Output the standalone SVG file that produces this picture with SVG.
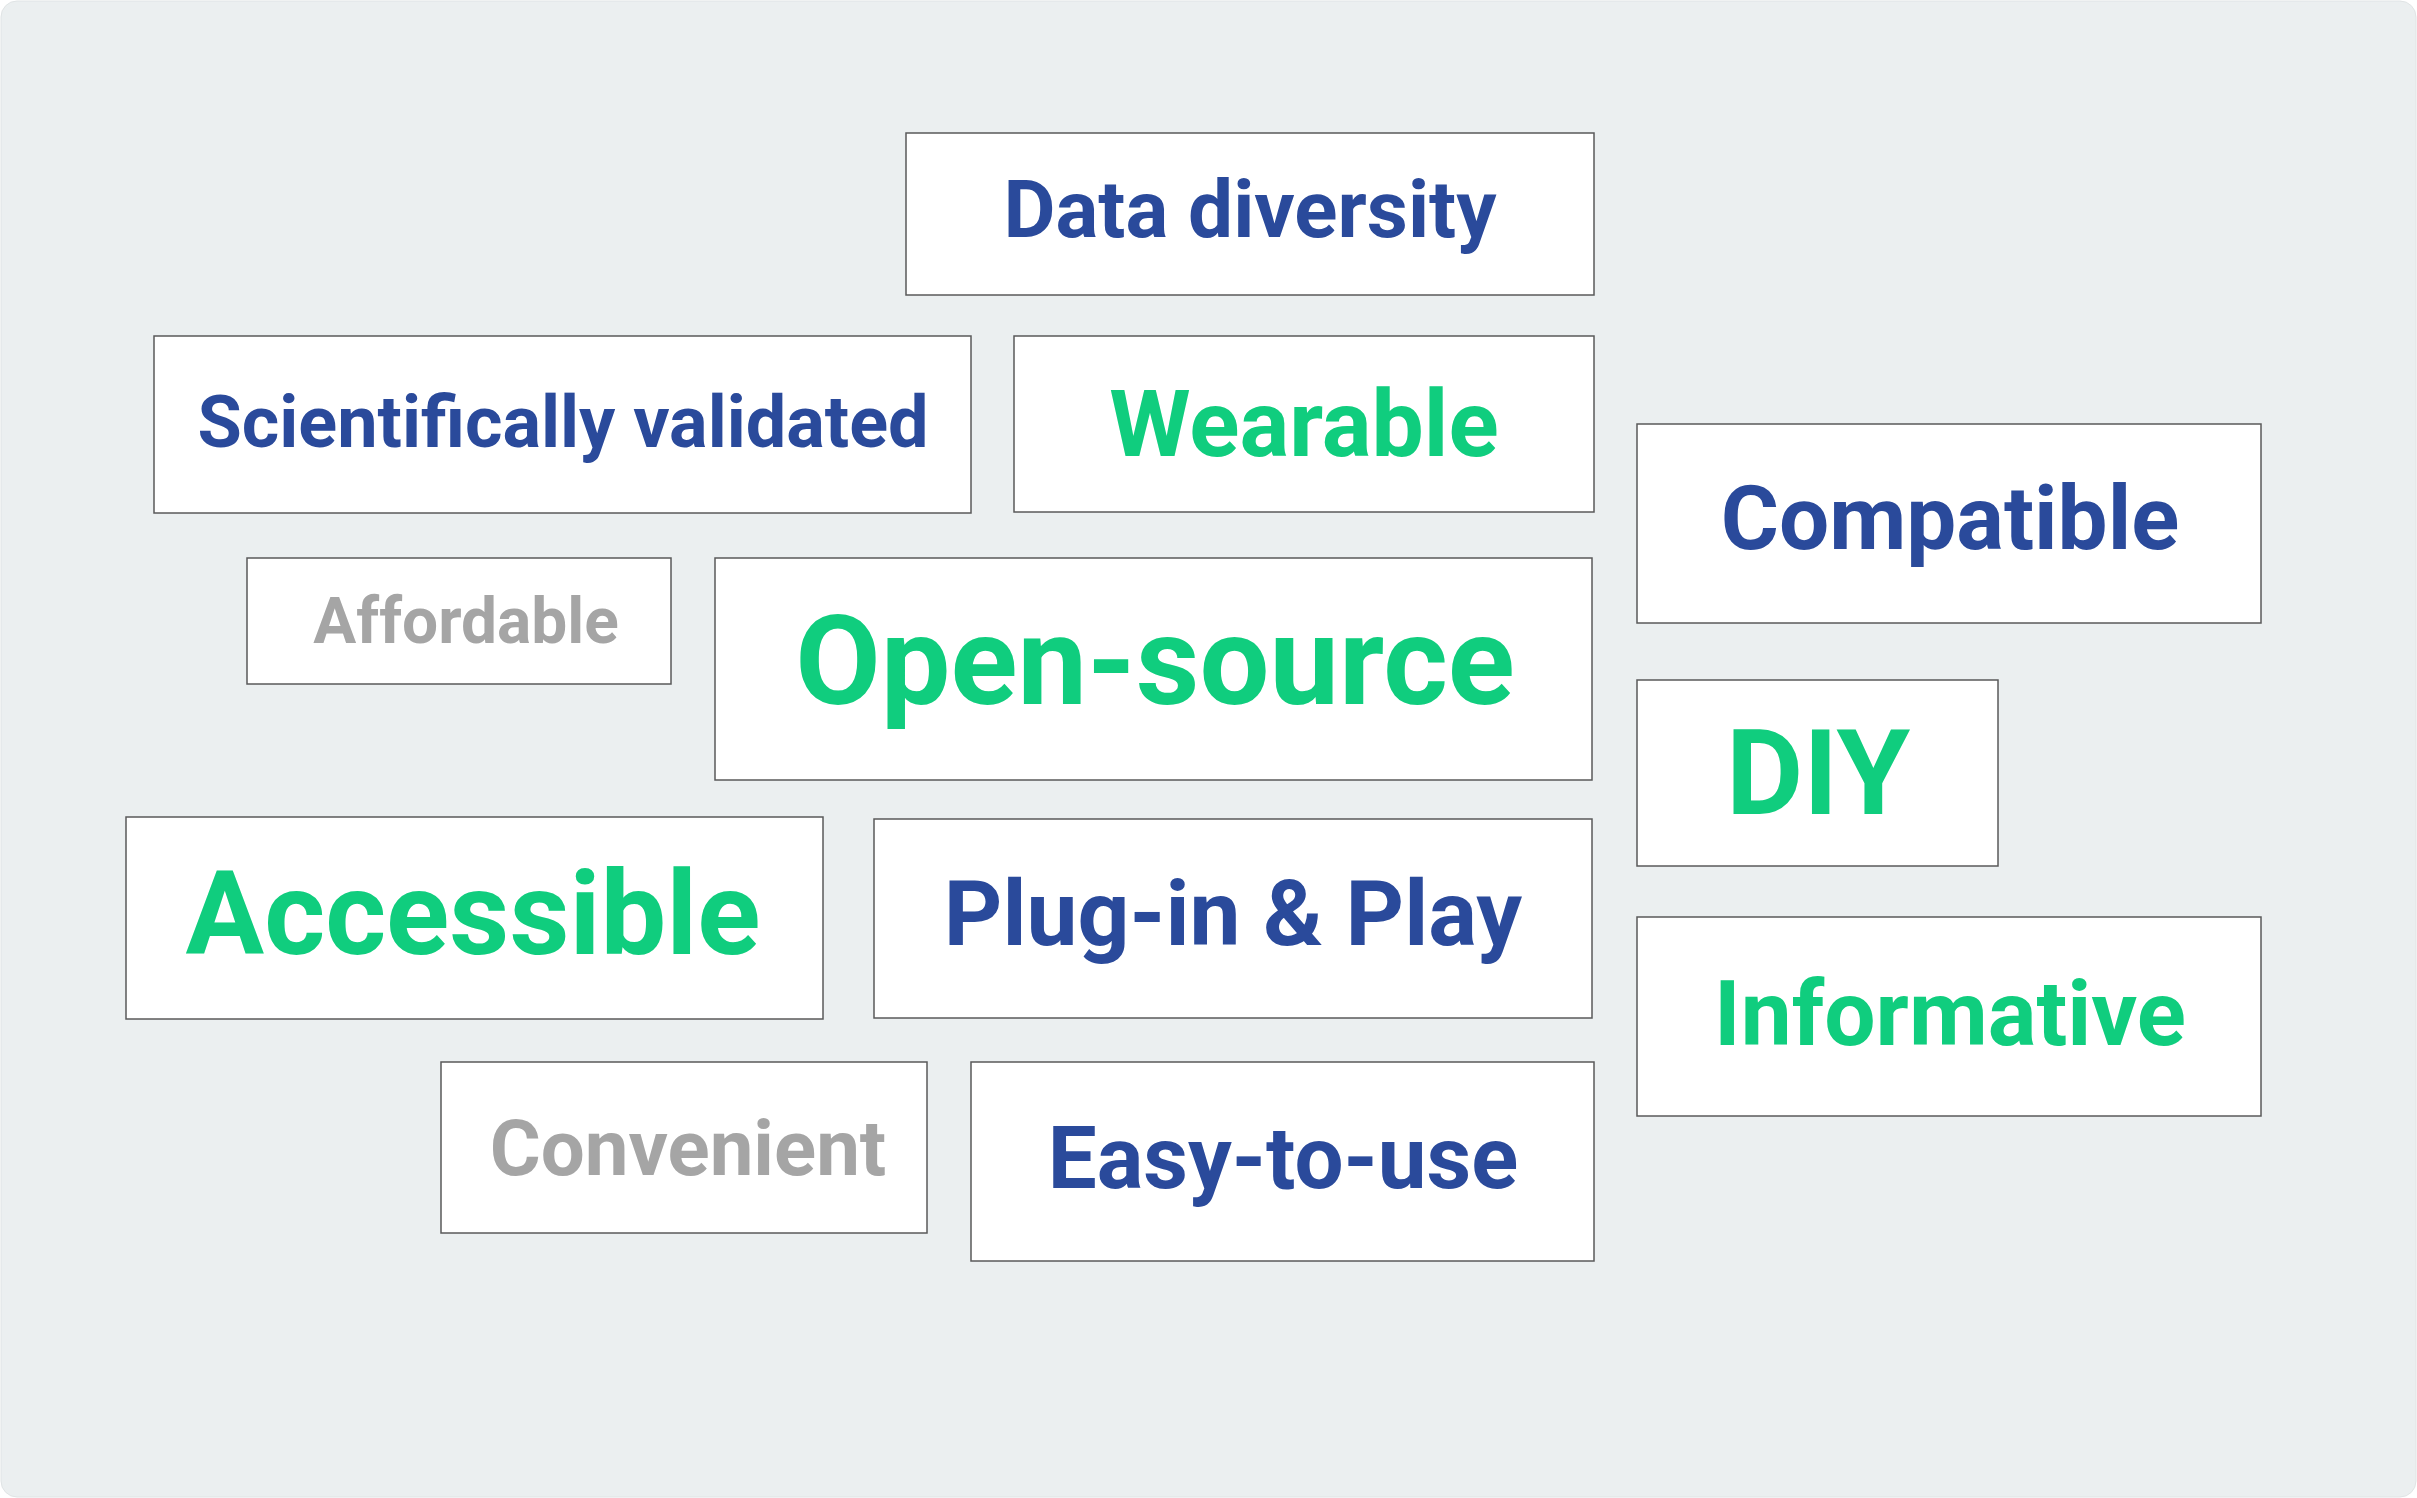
<svg xmlns="http://www.w3.org/2000/svg" width="2417" height="1498" viewBox="0 0 2417 1498">
<style>
.b{fill:#fff;stroke:#5a5a5a;stroke-width:1.5}
text{font-family:Roboto,"Liberation Sans",sans-serif;font-weight:bold;text-anchor:middle}
.bl{fill:#2a4a9b}.gr{fill:#10cd7e}.gy{fill:#a5a5a5}
</style>
<rect x="1" y="1" width="2415" height="1496" rx="16" fill="#ebeff0" stroke="#e0e4e5"/>
<g id="data-diversity"><rect class="b" x="906" y="133" width="688" height="162"/><text class="bl" x="1250" y="237" font-size="80">Data diversity</text></g>
<g id="scientifically-validated"><rect class="b" x="154" y="336" width="817" height="177"/><text class="bl" x="563" y="447" font-size="72">Scientifically validated</text></g>
<g id="wearable"><rect class="b" x="1014" y="336" width="580" height="176"/><text class="gr" x="1304" y="456" font-size="93">Wearable</text></g>
<g id="compatible"><rect class="b" x="1637" y="424" width="624" height="199"/><text class="bl" x="1950" y="549" font-size="89">Compatible</text></g>
<g id="affordable"><rect class="b" x="247" y="558" width="424" height="126"/><text class="gy" x="466" y="643" font-size="64">Affordable</text></g>
<g id="open-source"><rect class="b" x="715" y="558" width="877" height="222"/><text class="gr" x="1155" y="704" font-size="124">Open-source</text></g>
<g id="diy"><rect class="b" x="1637" y="680" width="361" height="186"/><text class="gr" x="1818" y="814" font-size="119">DIY</text></g>
<g id="accessible"><rect class="b" x="126" y="817" width="697" height="202"/><text class="gr" x="473" y="954" font-size="117">Accessible</text></g>
<g id="plug-in-play"><rect class="b" x="874" y="819" width="718" height="199"/><text class="bl" x="1233" y="945" font-size="91">Plug-in &amp; Play</text></g>
<g id="informative"><rect class="b" x="1637" y="917" width="624" height="199"/><text class="gr" x="1950" y="1045" font-size="91">Informative</text></g>
<g id="convenient"><rect class="b" x="441" y="1062" width="486" height="171"/><text class="gy" x="688" y="1175" font-size="78">Convenient</text></g>
<g id="easy-to-use"><rect class="b" x="971" y="1062" width="623" height="199"/><text class="bl" x="1283" y="1188" font-size="87">Easy-to-use</text></g>
<g id="connectors"/>
</svg>
